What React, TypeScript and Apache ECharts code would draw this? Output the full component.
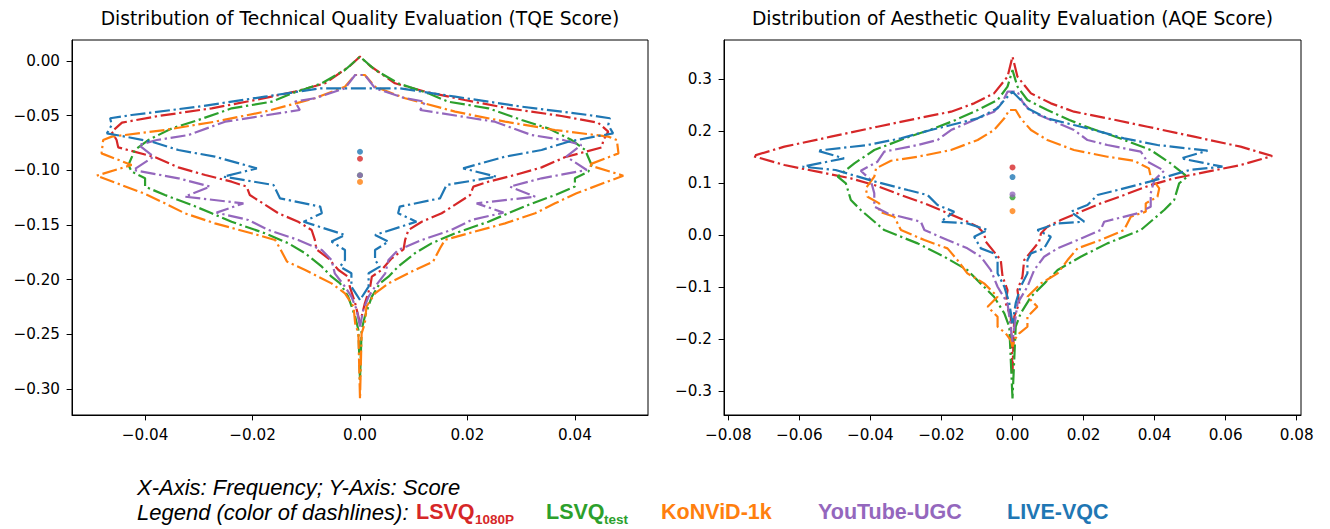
import React, { useEffect, useRef } from "react";
import * as echarts from "echarts";

// ---------- DATA: [score, frequency] half-profiles (mirrored on both sides) ----------
const seriesNames = ["LSVQ1080P", "LSVQtest", "KoNViD-1k", "YouTube-UGC", "LIVE-VQC"];

// TQE (left panel)
const tqeLSVQ1080P: number[][] = [
  [0.004, 0], [-0.0046, 0.0019], [-0.0204, 0.0065], [-0.028, 0.0121], [-0.0357, 0.0195], [-0.0433, 0.0276],
  [-0.0503, 0.0375], [-0.0564, 0.0443], [-0.0646, 0.0462], [-0.0723, 0.0453], [-0.079, 0.045], [-0.0881, 0.0381],
  [-0.0973, 0.0338], [-0.1043, 0.0288], [-0.1104, 0.0239], [-0.1149, 0.0211], [-0.1226, 0.0205], [-0.1393, 0.0152],
  [-0.147, 0.0115], [-0.1546, 0.009], [-0.1637, 0.0084], [-0.1723, 0.0081], [-0.1805, 0.0059], [-0.1912, 0.004],
  [-0.1973, 0.0022], [-0.2064, 0.0019], [-0.2216, 0.0009], [-0.24, 0],
];
const tqeLSVQtest: number[][] = [
  [0.004, 0], [-0.0082, 0.0028], [-0.0204, 0.0071], [-0.0296, 0.0127], [-0.0372, 0.0164], [-0.0433, 0.0239],
  [-0.054, 0.0301], [-0.0616, 0.035], [-0.0723, 0.0394], [-0.0814, 0.0419], [-0.0951, 0.0431], [-0.1012, 0.0425],
  [-0.1073, 0.04], [-0.1149, 0.04], [-0.1226, 0.0363], [-0.1317, 0.0313], [-0.1393, 0.0276], [-0.147, 0.0239],
  [-0.1576, 0.0177], [-0.1668, 0.0133], [-0.1759, 0.0102], [-0.1881, 0.0071], [-0.1973, 0.0053], [-0.2034, 0.0037],
  [-0.2155, 0.0022], [-0.2338, 0.0009], [-0.246, 0.0003], [-0.2918, 0],
];
const tqeKoNViD: number[][] = [
  [-0.0128, 0.0009], [-0.0235, 0.0028], [-0.0341, 0.0084], [-0.0463, 0.0177], [-0.0555, 0.027], [-0.0631, 0.0363],
  [-0.0692, 0.0462], [-0.0723, 0.0478], [-0.0845, 0.0481], [-0.0951, 0.0425], [-0.1049, 0.049], [-0.121, 0.0403],
  [-0.1302, 0.0363], [-0.1393, 0.0326], [-0.1485, 0.027], [-0.1576, 0.0202], [-0.1637, 0.0158], [-0.1713, 0.0149],
  [-0.1835, 0.0136], [-0.1912, 0.0102], [-0.2034, 0.0053], [-0.2125, 0.0028], [-0.2247, 0.0012], [-0.24, 0.0009],
  [-0.2491, 0.0003], [-0.3085, 0],
];
const tqeYouTube: number[][] = [
  [-0.0128, 0.0009], [-0.025, 0.0028], [-0.0341, 0.0084], [-0.0372, 0.0121], [-0.0448, 0.0112], [-0.0555, 0.0251],
  [-0.0677, 0.0319], [-0.0723, 0.0378], [-0.0768, 0.0412], [-0.0875, 0.0384], [-0.0997, 0.0422], [-0.1073, 0.0338],
  [-0.1149, 0.0279], [-0.1241, 0.0326], [-0.1302, 0.0217], [-0.1387, 0.0267], [-0.1454, 0.0208], [-0.1546, 0.017],
  [-0.1637, 0.0115], [-0.1729, 0.0071], [-0.182, 0.0053], [-0.1942, 0.0047], [-0.2064, 0.0028], [-0.2155, 0.0016],
  [-0.2277, 0.0006], [-0.243, 0],
];
const tqeLIVEVQC: number[][] = [
  [-0.025, 0.0074], [-0.0326, 0.0177], [-0.0418, 0.0301], [-0.0494, 0.0425], [-0.0524, 0.0465], [-0.0585, 0.0462],
  [-0.0662, 0.0471], [-0.0692, 0.0437], [-0.0738, 0.0388], [-0.0814, 0.0338], [-0.0875, 0.027], [-0.0982, 0.0192],
  [-0.1058, 0.0254], [-0.1134, 0.0161], [-0.1256, 0.0149], [-0.1332, 0.0074], [-0.1393, 0.0071], [-0.147, 0.0105],
  [-0.1591, 0.0028], [-0.1652, 0.0053], [-0.1729, 0.0028], [-0.182, 0.0028], [-0.1881, 0.0037], [-0.1942, 0.0016],
  [-0.2064, 0.0016], [-0.2186, 0],
];
// mean scores (dots at frequency 0), order as seriesNames
const tqeMeans = [-0.0894, -0.1045, -0.1106, -0.1045, -0.083];

// AQE (right panel)
const aqeLSVQ1080P: number[][] = [
  [0.343, 0], [0.3045, 0.0014], [0.2724, 0.0052], [0.2532, 0.0108], [0.2372, 0.0173], [0.2244, 0.0267],
  [0.2083, 0.038], [0.1891, 0.0511], [0.1699, 0.0642], [0.1519, 0.0731], [0.1346, 0.0642], [0.1218, 0.0549],
  [0.109, 0.0455], [0.0962, 0.0389], [0.0769, 0.0314], [0.0609, 0.0248], [0.0449, 0.0192], [0.0288, 0.0136],
  [0.016, 0.0098], [0.003, 0.008], [-0.0128, 0.0075], [-0.048, 0.0033], [-0.08, 0.0028], [-0.1058, 0.0014],
  [-0.131, 0.0019], [-0.157, 0.0005], [-0.2, 0.0003], [-0.265, 0],
];
const aqeLSVQtest: number[][] = [
  [0.317, 0], [0.2853, 0.0014], [0.2596, 0.0042], [0.2404, 0.0098], [0.2212, 0.016], [0.2051, 0.022],
  [0.1891, 0.029], [0.1635, 0.0389], [0.1378, 0.0445], [0.1122, 0.0492], [0.0994, 0.0469], [0.0673, 0.0455],
  [0.0481, 0.0427], [0.0096, 0.0361], [-0.016, 0.0267], [-0.0417, 0.0192], [-0.0673, 0.0127], [-0.0929, 0.009],
  [-0.1186, 0.0052], [-0.1506, 0.0023], [-0.1763, 0.0009], [-0.3141, 0],
];
const aqeKoNViD: number[][] = [
  [0.2404, 0.0009], [0.2244, 0.0023], [0.2019, 0.0052], [0.1827, 0.0098], [0.1635, 0.0173], [0.1506, 0.0267],
  [0.1429, 0.0342], [0.1282, 0.0384], [0.1122, 0.0389], [0.0897, 0.0413], [0.0737, 0.0408], [0.0609, 0.0375],
  [0.0449, 0.0375], [0.0353, 0.0333], [0.0096, 0.0314], [-0.0096, 0.0248], [-0.0256, 0.0183], [-0.0481, 0.0155],
  [-0.0737, 0.0127], [-0.0929, 0.008], [-0.1186, 0.0042], [-0.1378, 0.007], [-0.157, 0.0042], [-0.1763, 0.0042],
  [-0.1891, 0.0019], [-0.2019, 0.0005], [-0.2147, 0],
];
const aqeYouTube: number[][] = [
  [0.2756, 0.0014], [0.2564, 0.0028], [0.2372, 0.0052], [0.2212, 0.0108], [0.2019, 0.0173], [0.1827, 0.0211],
  [0.1731, 0.0267], [0.1603, 0.0361], [0.141, 0.038], [0.1237, 0.0427], [0.1058, 0.0399], [0.0801, 0.0389],
  [0.0545, 0.0389], [0.0417, 0.0352], [0.0256, 0.0258], [0.0096, 0.0248], [-0.0096, 0.0183], [-0.0256, 0.0127],
  [-0.0417, 0.0089], [-0.0673, 0.0061], [-0.0994, 0.0042], [-0.1314, 0.0014], [-0.157, 0.0009], [-0.205, 0],
];
const aqeLIVEVQC: number[][] = [
  [0.2756, 0], [0.2596, 0.0023], [0.2436, 0.0042], [0.2244, 0.0098], [0.2115, 0.0173], [0.2019, 0.023],
  [0.1859, 0.0314], [0.1731, 0.0408], [0.1622, 0.0549], [0.1474, 0.0474], [0.1314, 0.0591], [0.125, 0.0498],
  [0.1026, 0.0386], [0.0865, 0.0295], [0.0769, 0.0239], [0.0577, 0.0211], [0.0449, 0.0164], [0.0256, 0.0202],
  [0.0224, 0.0127], [0.0096, 0.007], [-0.0032, 0.0108], [-0.0256, 0.0089], [-0.0353, 0.0052], [-0.0481, 0.0042],
  [-0.0737, 0.0042], [-0.0994, 0.0023], [-0.131, 0.0009], [-0.17, 0],
];
const aqeMeans = [0.13, 0.0725, 0.046, 0.078, 0.1115];

// tick values
const tqeXTicks = [-0.04, -0.02, 0, 0.02, 0.04];
const tqeYTicks = [0, -0.05, -0.1, -0.15, -0.2, -0.25, -0.3];
const aqeXTicks = [-0.08, -0.06, -0.04, -0.02, 0, 0.02, 0.04, 0.06, 0.08];
const aqeYTicks = [0.3, 0.2, 0.1, 0, -0.1, -0.2, -0.3];

const titles = [
  "Distribution of Technical Quality Evaluation (TQE Score)",
  "Distribution of Aesthetic Quality Evaluation (AQE Score)",
];

const COLORS = ["#d62728", "#2ca02c", "#ff7f0e", "#9467bd", "#1f77b4"];

// ---------- helpers ----------
function violin(half: number[][]) {
  const left = half.slice().reverse().map(([s, f]) => [-f, s]);
  const right = half.map(([s, f]) => [f, s]);
  return left.concat(right);
}
const fmt = (d: number) => (v: number) =>
  Math.abs(v) < 1e-9 ? (0).toFixed(d) : (v < 0 ? "\u2212" : "") + Math.abs(v).toFixed(d);

const TICK_FONT = { color: "#000", fontSize: 15.2, fontFamily: "DejaVu Sans" };

function valueAxis(gridIndex: number, min: number, max: number, ticks: number[], dec: number) {
  return {
    type: "value",
    gridIndex,
    min,
    max,
    axisLine: { show: true, onZero: false, lineStyle: { color: "#000", width: 1 } },
    axisTick: { show: true, inside: false, length: 5.4, customValues: ticks, lineStyle: { color: "#000", width: 1 } },
    axisLabel: { show: true, customValues: ticks, formatter: fmt(dec), margin: 12, ...TICK_FONT },
    splitLine: { show: false },
  };
}

export default function App() {
  const ref = useRef<HTMLDivElement>(null);
  useEffect(() => {
    if (!ref.current) return;
    const chart = echarts.init(ref.current, undefined, { renderer: "svg" });
    const tqe = [tqeLSVQ1080P, tqeLSVQtest, tqeKoNViD, tqeYouTube, tqeLIVEVQC];
    const aqe = [aqeLSVQ1080P, aqeLSVQtest, aqeKoNViD, aqeYouTube, aqeLIVEVQC];
    const dash = [15, 3.7, 2.3, 3.7];
    const series: any[] = [];
    [tqe, aqe].forEach((set, gi) => {
      set.forEach((half, i) => {
        series.push({
          type: "line",
          name: seriesNames[i] + (gi ? " AQE" : " TQE"),
          xAxisIndex: gi,
          yAxisIndex: gi,
          data: violin(half),
          symbol: "none",
          lineStyle: { color: COLORS[i], width: 2.2, type: dash, cap: "butt" },
          z: 2,
        });
      });
    });
    // dots: draw LSVQtest first so others overlay it
    const dotOrder = [1, 0, 2, 3, 4];
    [tqeMeans, aqeMeans].forEach((means, gi) => {
      dotOrder.forEach((i) => {
        series.push({
          type: "scatter",
          xAxisIndex: gi,
          yAxisIndex: gi,
          data: [[0, means[i]]],
          symbol: "circle",
          symbolSize: 6,
          itemStyle: { color: COLORS[i] },
          z: 5,
        });
      });
    });

    const legendY = 512;
    const subY = 519;
    const boldFont = 'bold 21.5px "Liberation Sans"';
    const subFont = 'bold 13.5px "Liberation Sans"';
    const italicFont = 'italic 22px "Liberation Sans"';
    const graphic: any[] = [
      ...titles.map((t, i) => ({
        type: "text",
        x: i === 0 ? 360 : 1012.5,
        y: 18,
        style: { text: t, fill: "#000", font: '18.7px "DejaVu Sans"', textAlign: "center", textVerticalAlign: "middle" },
      })),
      {
        type: "text", x: 137, y: 487,
        style: { text: "X-Axis: Frequency; Y-Axis: Score", fill: "#000", font: italicFont, textAlign: "left", textVerticalAlign: "middle" },
      },
      {
        type: "text", x: 137, y: legendY,
        style: { text: "Legend (color of dashlines):", fill: "#000", font: italicFont, textAlign: "left", textVerticalAlign: "middle" },
      },
      { type: "text", x: 416, y: legendY, style: { text: "LSVQ", fill: COLORS[0], font: boldFont, textAlign: "left", textVerticalAlign: "middle" } },
      { type: "text", x: 475, y: subY, style: { text: "1080P", fill: COLORS[0], font: subFont, textAlign: "left", textVerticalAlign: "middle" } },
      { type: "text", x: 546, y: legendY, style: { text: "LSVQ", fill: COLORS[1], font: boldFont, textAlign: "left", textVerticalAlign: "middle" } },
      { type: "text", x: 604, y: subY, style: { text: "test", fill: COLORS[1], font: subFont, textAlign: "left", textVerticalAlign: "middle" } },
      { type: "text", x: 661, y: legendY, style: { text: "KoNViD-1k", fill: COLORS[2], font: boldFont, textAlign: "left", textVerticalAlign: "middle" } },
      { type: "text", x: 818, y: legendY, style: { text: "YouTube-UGC", fill: COLORS[3], font: boldFont, textAlign: "left", textVerticalAlign: "middle" } },
      { type: "text", x: 1007, y: legendY, style: { text: "LIVE-VQC", fill: COLORS[4], font: boldFont, textAlign: "left", textVerticalAlign: "middle" } },
    ];

    chart.setOption({
      animation: false,
      backgroundColor: "#fff",
      grid: [
        { left: 72, top: 40, width: 576, height: 375, show: true, borderColor: "#000", borderWidth: 1, backgroundColor: "transparent", containLabel: false },
        { left: 724, top: 40, width: 577, height: 375, show: true, borderColor: "#000", borderWidth: 1, backgroundColor: "transparent", containLabel: false },
      ],
      xAxis: [
        valueAxis(0, -0.0536, 0.0536, tqeXTicks, 2),
        valueAxis(1, -0.0812, 0.0812, aqeXTicks, 2),
      ],
      yAxis: [
        valueAxis(0, -0.3238, 0.0192, tqeYTicks, 2),
        valueAxis(1, -0.346, 0.375, aqeYTicks, 1),
      ],
      series,
      graphic,
    });
    return () => chart.dispose();
  }, []);
  return (
    <div
      ref={ref}
      style={{ position: "fixed", left: 0, top: 0, width: 1330, height: 529, background: "#fff" }}
    />
  );
}
